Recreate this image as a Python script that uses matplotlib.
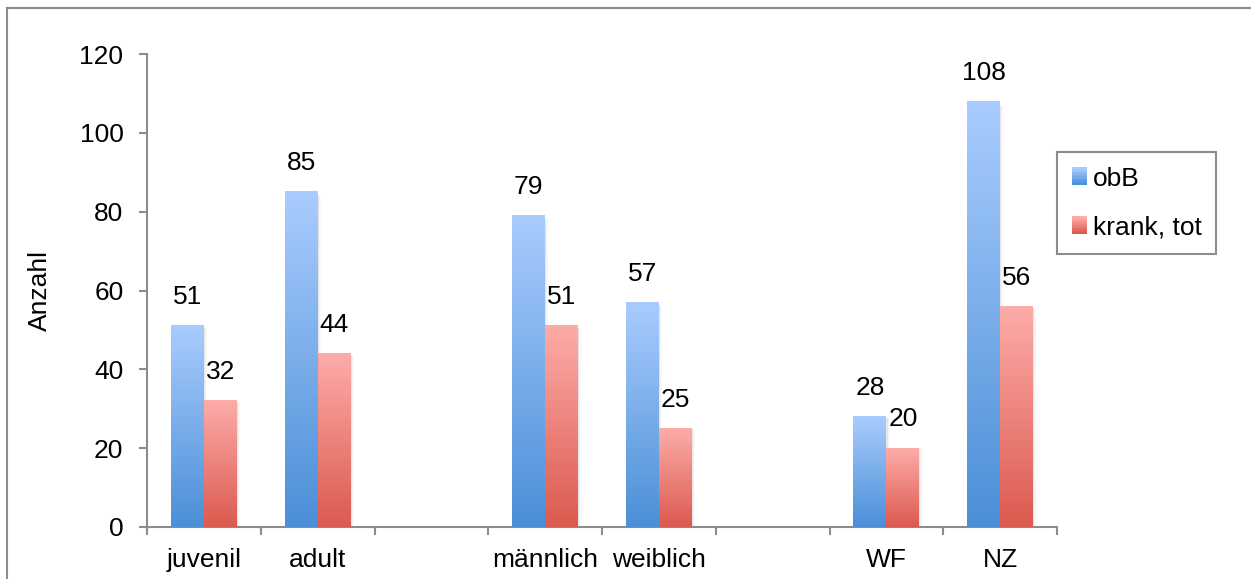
import numpy as np
import matplotlib
matplotlib.use("Agg")
import matplotlib.pyplot as plt
from matplotlib.colors import LinearSegmentedColormap, to_rgb
from matplotlib.patches import Rectangle
from matplotlib.legend_handler import HandlerBase
from matplotlib.lines import Line2D

plt.rcParams["font.family"] = ["Liberation Sans", "DejaVu Sans"]

categories = ["juvenil", "adult", "", "männlich", "weiblich", "", "WF", "NZ"]
obb_values = [51, 85, np.nan, 79, 57, np.nan, 28, 108]
krank_values = [32, 44, np.nan, 51, 25, np.nan, 20, 56]
series_names = ["obB", "krank, tot"]
y_ticks = [0, 20, 40, 60, 80, 100, 120]

# (top colour, bottom colour) of each series' vertical gradient
BLUE = ("#a9ccfe", "#4b8fd7")
RED = ("#fdaca9", "#db5a4f")
FS = 19
GRID_GREY = "#8c8c8c"

fig = plt.figure(figsize=(12.51, 5.79), dpi=100)
ax = fig.add_axes([147 / 1251, 1 - 527 / 579, (1057 - 147) / 1251, (527 - 54) / 579])

x = np.arange(len(categories))
width = 0.29


def gradient_bars(ax, xs, heights, colours):
    bars = ax.bar(xs, heights, width=width, align="edge", color="none",
                  edgecolor="none", zorder=3)
    cmap = LinearSegmentedColormap.from_list("g", [colours[1], colours[0]])
    grad = np.linspace(0, 1, 256).reshape(-1, 1)
    for b in bars:
        h = b.get_height()
        if not np.isfinite(h) or h <= 0:
            continue
        x0 = b.get_x()
        # soft drop shadow to the right
        for k, a in enumerate([0.05, 0.03, 0.015]):
            ax.add_patch(Rectangle((x0 + width, 0), 0.01 * (k + 1), h * 0.99,
                                   facecolor="black", alpha=a, edgecolor="none",
                                   zorder=2))
        ax.imshow(grad, extent=[x0, x0 + width, 0, h], origin="lower",
                  aspect="auto", cmap=cmap, zorder=3, interpolation="bilinear")
    return bars


bars_b = gradient_bars(ax, x - width, obb_values, BLUE)
bars_r = gradient_bars(ax, x, krank_values, RED)

for bars in (bars_b, bars_r):
    for b in bars:
        h = b.get_height()
        if np.isfinite(h):
            ax.annotate(f"{h:g}", (b.get_x() + width / 2, h), xytext=(0, 12),
                        textcoords="offset points", ha="center", va="bottom",
                        fontsize=FS, color="black", zorder=5)

ax.set_xlim(-0.5, len(categories) - 0.5)
ax.set_ylim(0, 120)
ax.set_yticks(y_ticks)
ax.set_xticks(x)
ax.set_xticklabels(categories)
ax.set_xticks(np.arange(-0.5, len(categories)), minor=True)

for side in ("top", "right"):
    ax.spines[side].set_visible(False)
for side in ("left", "bottom"):
    ax.spines[side].set_color(GRID_GREY)
    ax.spines[side].set_linewidth(1.5)

ax.tick_params(axis="y", direction="out", length=6, width=1.5, color=GRID_GREY,
               labelsize=FS, pad=11)
ax.tick_params(axis="x", which="major", length=0, labelsize=FS, pad=15)
ax.tick_params(axis="x", which="minor", direction="out", length=6, width=1.5,
               color=GRID_GREY)
ax.set_ylabel("Anzahl", fontsize=FS, labelpad=20)


class GradientHandler(HandlerBase):
    def __init__(self, colours):
        super().__init__()
        self.colours = colours

    def create_artists(self, legend, orig_handle, xdescent, ydescent, width,
                       height, fontsize, trans):
        top = np.array(to_rgb(self.colours[0]))
        bot = np.array(to_rgb(self.colours[1]))
        n = 12
        arts = []
        for i in range(n):
            t = i / (n - 1)
            arts.append(Rectangle((-xdescent, -ydescent + height * i / n), width,
                                  height / n + 0.3, facecolor=bot + (top - bot) * t,
                                  edgecolor="none", transform=trans))
        return arts


h_b = Line2D([], [])
h_r = Line2D([], [])
leg = fig.legend([h_b, h_r], series_names,
                 handler_map={h_b: GradientHandler(BLUE), h_r: GradientHandler(RED)},
                 loc="upper left", bbox_to_anchor=(1057 / 1251, 1 - 152 / 579),
                 borderaxespad=0, fontsize=FS, fancybox=False, framealpha=1,
                 edgecolor=GRID_GREY, handlelength=0.6, handleheight=0.6,
                 handletextpad=0.2, labelspacing=0.95, borderpad=0.55)
leg.get_frame().set_linewidth(1.5)

# outer chart frame (top and left edges)
fig.add_artist(Line2D([7 / 1251, 1], [1 - 8 / 579, 1 - 8 / 579],
                      transform=fig.transFigure, color=GRID_GREY, lw=1.5))
fig.add_artist(Line2D([7 / 1251, 7 / 1251], [0, 1 - 8 / 579],
                      transform=fig.transFigure, color=GRID_GREY, lw=1.5))

fig.savefig("out.png", dpi=100, facecolor="white")
